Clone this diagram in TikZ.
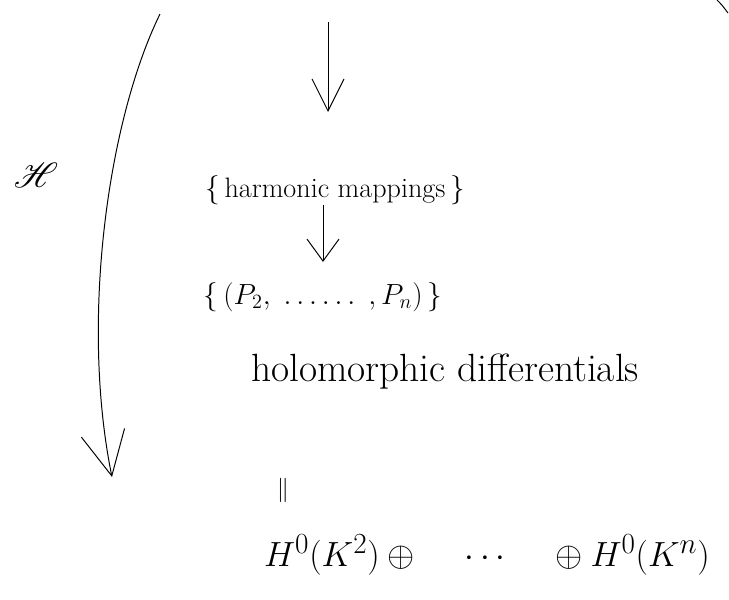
\documentclass[tikz,border=0pt]{standalone}
\usepackage{amsmath,mathrsfs}
\usetikzlibrary{arrows.meta}

\begin{document}
\begin{tikzpicture}[
    x=0.025cm, y=-0.025cm,
    line width=0.7pt,
    bigarrow/.style={-{Straight Barb[length=11mm,width=11mm,line width=0.7pt]}},
    smallarrow/.style={-{Straight Barb[length=8mm,width=8mm,line width=0.7pt]}},
    tinyarrow/.style={-{Straight Barb[length=5.5mm,width=8mm,line width=0.7pt]}},
    setnode/.style={inner sep=0pt, font=\fontsize{20}{24}\selectfont},
    wordnode/.style={inner sep=0pt, font=\fontsize{28}{32}\selectfont},
    sumnode/.style={inner sep=0pt, font=\fontsize{30}{36}\selectfont}
]
\useasboundingbox (0,0) rectangle (729,599);

% sets along the chain
\node[setnode] (harm) at (335,190) {$\{$\,harmonic mappings\,$\}$};
\node[setnode] (tuple) at (323,297) {$\{\,(P_2,\;\ldots\ldots\;,P_n)\,\}$};
\node[wordnode] (holo) at (445,372) {holomorphic differentials};
\node[inner sep=0pt, font=\fontsize{18}{20}\selectfont] (eq) at (283,490) {$\|$};
\node[sumnode] (sum) at (487,555) {$H^0(K^2)\oplus\quad\cdots\quad\oplus H^0(K^n)$};

% the long map on the left
\node[inner sep=0pt, font=\fontsize{34}{40}\selectfont] (hmap) at (36,175) {$\mathscr{H}$};
\coordinate (htop) at (160,14);
\coordinate (hend) at (112,477);
\draw[bigarrow] (htop) .. controls (108,120) and (80,320) .. (hend);

% arrows down the chain
\coordinate (src) at (328,22);
\coordinate (srcend) at (328,112);
\draw[smallarrow] (src) -- (srcend);
\draw[tinyarrow, shorten >=0.5cm] (harm.south -| tuple.north) -- (tuple.north);

% edge of a curve at the corner
\coordinate (ctop) at (717,0);
\coordinate (cend) at (728,13);
\draw (ctop) .. controls (722,5) .. (cend);
\end{tikzpicture}
\end{document}
